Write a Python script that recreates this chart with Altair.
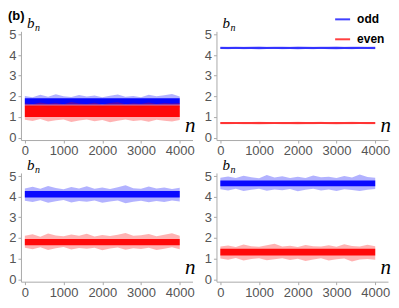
import altair as alt
import pandas as pd

# n positions at which the envelopes were read
n_pos = [0, 200, 400, 600, 800, 1000, 1200, 1400, 1600, 1800, 2000,
         2200, 2400, 2600, 2800, 3000, 3200, 3400, 3600, 3800, 4000]

# ---- panel 1 (top-left)
odd_hi_1 = [2.02, 1.96, 2.08, 1.98, 2.10, 2.00, 1.97, 2.06, 1.99, 2.04, 1.95, 2.03, 2.09, 1.98, 2.02, 1.96, 2.07, 2.00, 2.05, 2.11, 1.99]
odd_lo_1 = [1.50, 1.46, 1.52, 1.44, 1.49, 1.53, 1.45, 1.50, 1.47, 1.51, 1.43, 1.49, 1.52, 1.46, 1.50, 1.44, 1.48, 1.53, 1.45, 1.49, 1.47]
odd_core_1 = (1.60, 1.90)
even_hi_1 = [1.66, 1.62, 1.70, 1.64, 1.68, 1.61, 1.72, 1.65, 1.63, 1.69, 1.60, 1.67, 1.71, 1.62, 1.66, 1.64, 1.70, 1.63, 1.68, 1.65, 1.67]
even_lo_1 = [0.86, 0.80, 0.90, 0.78, 0.84, 0.88, 0.76, 0.83, 0.87, 0.79, 0.85, 0.74, 0.82, 0.88, 0.80, 0.84, 0.77, 0.86, 0.81, 0.78, 0.85]
even_core_1 = (1.00, 1.55)

# ---- panel 2 (top-right)
odd_hi_2 = [4.41, 4.40, 4.42, 4.40, 4.41, 4.43, 4.40, 4.41, 4.42, 4.40, 4.43, 4.41, 4.40, 4.42, 4.41, 4.43, 4.40, 4.42, 4.41, 4.40, 4.42]
odd_lo_2 = [4.29, 4.28, 4.30, 4.28, 4.29, 4.27, 4.29, 4.30, 4.28, 4.29, 4.27, 4.29, 4.28, 4.30, 4.28, 4.27, 4.29, 4.28, 4.30, 4.29, 4.28]
odd_core_2 = (4.31, 4.38)
even_hi_2 = [0.75, 0.76, 0.74, 0.76, 0.75, 0.77, 0.75, 0.74, 0.76, 0.75, 0.77, 0.76, 0.75, 0.77, 0.74, 0.76, 0.75, 0.77, 0.76, 0.75, 0.76]
even_lo_2 = [0.65, 0.64, 0.66, 0.64, 0.65, 0.63, 0.65, 0.66, 0.64, 0.65, 0.63, 0.65, 0.64, 0.66, 0.64, 0.63, 0.65, 0.64, 0.66, 0.65, 0.64]
even_core_2 = (0.67, 0.74)

# ---- panel 3 (bottom-left)
odd_hi_3 = [4.40, 4.48, 4.38, 4.52, 4.42, 4.36, 4.47, 4.40, 4.50, 4.39, 4.44, 4.37, 4.46, 4.55, 4.41, 4.38, 4.49, 4.40, 4.45, 4.37, 4.43]
odd_lo_3 = [3.80, 3.74, 3.83, 3.70, 3.78, 3.84, 3.72, 3.79, 3.75, 3.82, 3.71, 3.77, 3.81, 3.68, 3.76, 3.80, 3.73, 3.79, 3.74, 3.81, 3.77]
odd_core_3 = (3.96, 4.28)
even_hi_3 = [2.10, 2.18, 2.06, 2.22, 2.12, 2.08, 2.17, 2.11, 2.20, 2.07, 2.14, 2.09, 2.16, 2.24, 2.10, 2.13, 2.19, 2.08, 2.15, 2.23, 2.11]
even_lo_3 = [1.52, 1.45, 1.55, 1.42, 1.50, 1.56, 1.44, 1.51, 1.47, 1.53, 1.40, 1.49, 1.54, 1.43, 1.50, 1.46, 1.52, 1.41, 1.48, 1.55, 1.45]
even_core_3 = (1.65, 1.95)

# ---- panel 4 (bottom-right)
odd_hi_4 = [4.92, 4.98, 4.90, 5.02, 4.94, 4.89, 5.05, 4.93, 4.99, 4.91, 4.96, 4.90, 5.03, 4.94, 4.97, 4.91, 5.00, 4.93, 5.08, 4.95, 4.92]
odd_lo_4 = [4.36, 4.30, 4.38, 4.27, 4.34, 4.39, 4.29, 4.35, 4.31, 4.37, 4.26, 4.33, 4.38, 4.30, 4.35, 4.28, 4.36, 4.32, 4.27, 4.34, 4.37]
odd_core_4 = (4.50, 4.78)
even_hi_4 = [1.58, 1.63, 1.56, 1.68, 1.60, 1.57, 1.65, 1.72, 1.59, 1.62, 1.56, 1.66, 1.60, 1.58, 1.64, 1.57, 1.69, 1.61, 1.59, 1.67, 1.60]
even_lo_4 = [1.00, 0.94, 1.03, 0.90, 0.98, 1.02, 0.92, 0.97, 1.01, 0.93, 0.99, 0.88, 0.96, 1.02, 0.91, 0.97, 1.00, 0.86, 0.95, 0.98, 0.94]
even_core_4 = (1.15, 1.47)

x_ticks = [0, 1000, 2000, 3000, 4000]
y_ticks = [0, 1, 2, 3, 4, 5]
series_names = ["odd", "even"]
series_colors = ["#0000ff", "#ff0000"]

W, H = 172, 109
X_DOM = [-100, 4330]
Y_DOM = [-0.12, 5.15]

panels = [
    (odd_hi_1, odd_lo_1, odd_core_1, even_hi_1, even_lo_1, even_core_1),
    (odd_hi_2, odd_lo_2, odd_core_2, even_hi_2, even_lo_2, even_core_2),
    (odd_hi_3, odd_lo_3, odd_core_3, even_hi_3, even_lo_3, even_core_3),
    (odd_hi_4, odd_lo_4, odd_core_4, even_hi_4, even_lo_4, even_core_4),
]


def make_df(hi, lo, core, name):
    rows = []
    for i, n in enumerate(n_pos):
        rows.append({"n": n, "lo": lo[i], "hi": hi[i], "series": name, "kind": "outer"})
        rows.append({"n": n, "lo": core[0], "hi": core[1], "series": name, "kind": "core"})
    return pd.DataFrame(rows)


xenc = alt.X("n:Q", title=None,
             scale=alt.Scale(domain=X_DOM, nice=False, zero=False),
             axis=alt.Axis(values=x_ticks, format="d"))
yenc = alt.Y("lo:Q", title=None,
             scale=alt.Scale(domain=Y_DOM, nice=False, zero=False),
             axis=alt.Axis(values=y_ticks, format="d"))

one = alt.Data(values=[{}])


def txt(text, x, y, size, font, style="normal", weight="normal", align="left", baseline="alphabetic", color="black"):
    return alt.Chart(one).mark_text(
        text=text, font=font, fontSize=size, fontStyle=style, fontWeight=weight,
        align=align, baseline=baseline, color=color
    ).encode(x=alt.value(x), y=alt.value(y))


def panel(k):
    p = panels[k]
    layers = []
    for s, (hi, lo, core) in enumerate([(p[0], p[1], p[2]), (p[3], p[4], p[5])]):
        df = make_df(hi, lo, core, series_names[s])
        layers.append(alt.Chart(df).transform_filter(alt.datum.kind == "outer")
                      .mark_area(color=series_colors[s], opacity=0.3)
                      .encode(x=xenc, y=yenc, y2="hi:Q"))
        layers.append(alt.Chart(df).transform_filter(alt.datum.kind == "core")
                      .mark_area(color=series_colors[s], opacity=0.95)
                      .encode(x=xenc, y=yenc, y2="hi:Q"))
    layers.append(txt("b", 6, -3, 15, "Liberation Serif", style="italic"))
    layers.append(txt("n", 14, 0, 10, "Liberation Serif", style="italic"))
    layers.append(txt("n", W + 3, H - 8, 21, "Liberation Serif", style="italic", align="right"))
    if k == 0:
        layers.append(txt("(b)", -13, -11, 13, "Liberation Sans", weight="bold"))
    if k == 1:
        legend_y = [-12, 8]
        for s in range(2):
            layers.append(alt.Chart(one).mark_rule(color=series_colors[s], strokeWidth=2, opacity=0.75)
                          .encode(x=alt.value(W - 53), x2=alt.value(W - 38), y=alt.value(legend_y[s])))
            layers.append(txt(series_names[s], W - 31, legend_y[s], 12, "Liberation Sans",
                              weight="bold", baseline="middle"))
    return alt.layer(*layers).properties(width=W, height=H)


chart = alt.concat(
    panel(0), panel(1), panel(2), panel(3),
    columns=2,
    spacing={"row": 33, "column": 24},
    bounds="flush",
).properties(padding={"left": 0, "top": 2, "right": 0, "bottom": 0}).configure_view(stroke=None).configure_axis(
    grid=False,
    labelFont="Liberation Sans",
    labelFontSize=13,
    labelColor="#555555",
    domainColor="#aaaaaa",
    tickColor="#aaaaaa",
    tickSize=3,
    labelPadding=2,
)

chart.save("out.html", embed_options={"renderer": "svg", "actions": False})
